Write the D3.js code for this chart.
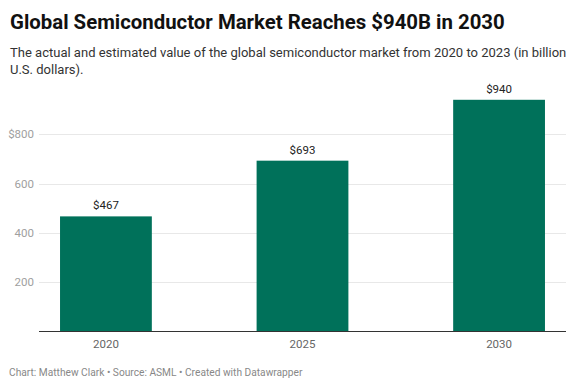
<!DOCTYPE html>
<html><head><meta charset="utf-8">
<script src="https://cdn.jsdelivr.net/npm/d3@7"></script>
<style>
html,body{margin:0;padding:0;background:#fff;}
svg text{font-family:Roboto,"Noto Sans",sans-serif;}
</style></head>
<body>
<script>
const years = ["2020","2025","2030"];
const values = [467, 693, 940];
const yTicks = [200, 400, 600, 800];

const W = 575, H = 390;
const svg = d3.select("body").append("svg").attr("width", W).attr("height", H);

function fit(sel, target, base) {
  sel.attr("font-size", base);
  const w = sel.node().getComputedTextLength();
  sel.attr("font-size", base * target / w);
}

const title = svg.append("text").attr("x", 10).attr("y", 29)
  .attr("font-weight", 700).attr("fill", "#111")
  .text("Global Semiconductor Market Reaches $940B in 2030");
fit(title, 495, 21);

const sub1 = svg.append("text").attr("x", 10).attr("y", 57).attr("fill", "#333")
  .text("The actual and estimated value of the global semiconductor market from 2020 to 2023 (in billion");
fit(sub1, 557, 14);
svg.append("text").attr("x", 10).attr("y", 74).attr("fill", "#333")
  .attr("font-size", sub1.attr("font-size")).text("U.S. dollars).");

const x = d3.scaleBand().domain(years).range([39, 566]).paddingInner(0.533).paddingOuter(0.107);
const y = d3.scaleLinear().domain([0, 800]).range([331.5, 134.3]);

const g = svg.append("g");
g.selectAll("line.grid").data(yTicks).join("line")
  .attr("x1", 39).attr("x2", 566)
  .attr("y1", d => Math.round(y(d)) + 0.5).attr("y2", d => Math.round(y(d)) + 0.5)
  .attr("stroke", "#e8e8e8").attr("stroke-width", 1);
g.selectAll("text.tick").data(yTicks).join("text")
  .attr("x", 34).attr("y", d => y(d)).attr("dy", "0.35em")
  .attr("text-anchor", "end").attr("font-size", 11.5).attr("fill", "#a0a0a0")
  .text(d => d === 800 ? "$" + d : d);

g.selectAll("rect.bar").data(values).join("rect")
  .attr("x", (d, i) => x(years[i])).attr("width", x.bandwidth())
  .attr("y", d => y(d)).attr("height", d => y(0) - y(d))
  .attr("fill", "#00715a");

g.selectAll("text.val").data(values).join("text")
  .attr("x", (d, i) => x(years[i]) + x.bandwidth() / 2).attr("y", d => y(d) - 7)
  .attr("text-anchor", "middle").attr("font-size", 11.5).attr("fill", "#222")
  .text(d => "$" + d);

g.append("line").attr("x1", 39).attr("x2", 566).attr("y1", 331.5).attr("y2", 331.5)
  .attr("stroke", "#333").attr("stroke-width", 1);

g.selectAll("text.xl").data(years).join("text")
  .attr("x", d => x(d) + x.bandwidth() / 2).attr("y", 343.5).attr("dy", "0.35em")
  .attr("text-anchor", "middle").attr("font-size", 11.5).attr("fill", "#666")
  .text(d => d);

const foot = svg.append("text").attr("x", 9).attr("y", 376).attr("fill", "#888")
  .text("Chart: Matthew Clark • Source: ASML • Created with Datawrapper");
fit(foot, 294, 11);
</script>
</body></html>
